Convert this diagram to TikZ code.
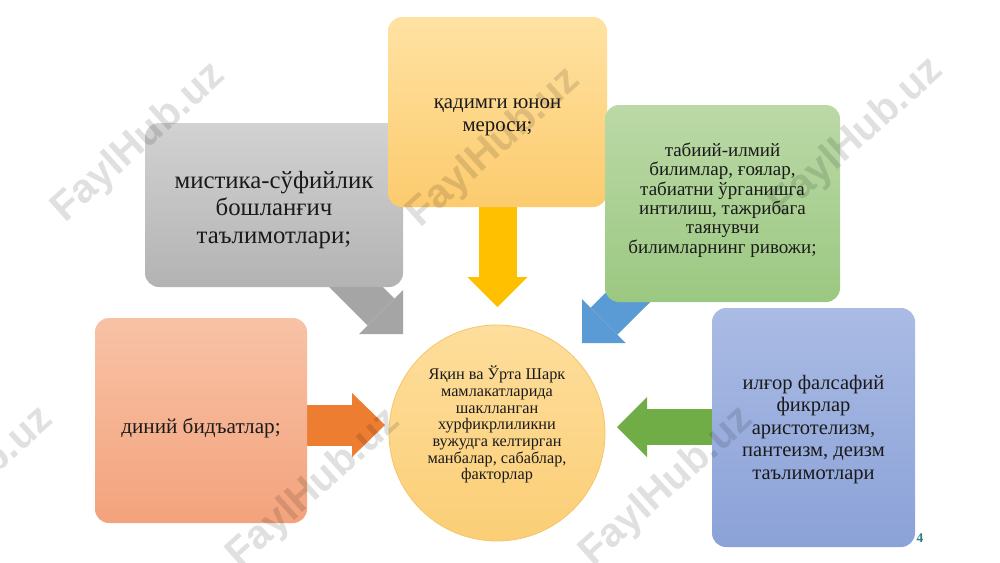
\documentclass[tikz,border=0pt]{standalone}
\usepackage{fontspec}
\setmainfont{Liberation Serif}
\newfontfamily\wmfont{Liberation Sans}
\usetikzlibrary{arrows.meta,backgrounds}
\definecolor{txt}{HTML}{1A1A1A}
\definecolor{grayT}{HTML}{D2D2D2}
\definecolor{grayB}{HTML}{B3B3B3}
\definecolor{grayA}{HTML}{A5A5A5}
\definecolor{yelT}{HTML}{FFE2A2}
\definecolor{yelB}{HTML}{FCCB6E}
\definecolor{yelA}{HTML}{FFC000}
\definecolor{grnT}{HTML}{BBD9A7}
\definecolor{grnB}{HTML}{9BC881}
\definecolor{bluA}{HTML}{5B9BD5}
\definecolor{bluT}{HTML}{AABBE4}
\definecolor{bluB}{HTML}{8BA2D8}
\definecolor{grnA}{HTML}{70AD47}
\definecolor{orT}{HTML}{F8C2A6}
\definecolor{orB}{HTML}{F3A37C}
\definecolor{orA}{HTML}{ED7D31}
\definecolor{hubT}{HTML}{FEDE9C}
\definecolor{hubB}{HTML}{FBCE76}
\definecolor{hubE}{HTML}{F6C46A}
\definecolor{pnum}{HTML}{2F7A8A}
\begin{document}
\begin{tikzpicture}[x=0.75pt,y=-0.75pt,
  box/.style={rounded corners=10.5pt, inner sep=0pt},
  boxtext/.style={align=center, text=txt, inner sep=0pt},
  flow/.style={line cap=butt},
  wm/.style={font=\wmfont\bfseries\fontsize{30.5}{30.5}\selectfont, text=black, text opacity=0.12, inner sep=0pt}]
\useasboundingbox (0,0) rectangle (1000,562);

% boxes
\node[box, minimum width=193.5pt, minimum height=123pt, top color=grayT, bottom color=grayB] (mystic) at (274,205) {};
\node[boxtext, font=\fontsize{18.6}{20.3}\selectfont] (mysticT) at (274,210) {мистика-сўфийлик\\бошланғич\\таълимотлари;};

\node[box, minimum width=164.25pt, minimum height=142.5pt, top color=yelT, bottom color=yelB] (greek) at (497.5,112) {};
\node[boxtext, font=\fontsize{15.6}{17.3}\selectfont] (greekT) at (497.5,117.5) {қадимги юнон\\мероси;};

\node[box, minimum width=176.25pt, minimum height=147.75pt, top color=grnT, bottom color=grnB] (nature) at (722.5,203.5) {};
\node[boxtext, font=\fontsize{14.25}{14.6}\selectfont] (natureT) at (722.5,200) {табиий-илмий\\билимлар, ғоялар,\\табиатни ўрганишга\\интилиш, тажрибага\\таянувчи\\билимларнинг ривожи;};

\node[box, minimum width=152.25pt, minimum height=179.25pt, top color=bluT, bottom color=bluB] (philo) at (813.5,427.5) {};
\node[boxtext, font=\fontsize{15.4}{16.9}\selectfont] (philoT) at (813.5,429.5) {илғор фалсафий\\фикрлар\\аристотелизм,\\пантеизм, деизм\\таълимотлари};

\node[box, minimum width=159pt, minimum height=153.75pt, top color=orT, bottom color=orB] (relig) at (201,420.5) {};
\node[boxtext, font=\fontsize{15.9}{17}\selectfont] (religT) at (201,428) {диний бидъатлар;};

\node[circle, minimum size=162pt, inner sep=0pt, draw=hubE, line width=0.6pt, top color=hubT, bottom color=hubB] (hub) at (497,433) {};
\node[boxtext, font=\fontsize{12.2}{12.5}\selectfont] (hubT) at (497,424.5)
  {Яқин ва Ўрта Шарк\\мамлакатларида\\шаклланган\\хурфикрлиликни\\вужудга келтирган\\манбалар, сабаблар,\\факторлар};

% arrow tips
\coordinate (tipGray) at (403,334);
\coordinate (tipYel) at (497.5,307);
\coordinate (tipBlue) at (582,343);
\coordinate (tipGrn) at (617,427);
\coordinate (tipOr) at (385,425);

\begin{scope}[on background layer]
\fill[white] (0,0) rectangle (1000,562);
\draw[flow, draw=grayA, line width=28.5pt, -{Triangle[width=46.5pt,length=23.25pt,line width=0pt]}] (mystic.center) -- (tipGray);
\draw[flow, draw=yelA, line width=28.5pt, -{Triangle[width=45pt,length=22.5pt,line width=0pt]}] (greek.center) -- (tipYel);
\draw[flow, draw=bluA, line width=28.5pt, -{Triangle[width=46.5pt,length=23.25pt,line width=0pt]}] (nature.center) -- (tipBlue);
\draw[flow, draw=grnA, line width=26.5pt, -{Triangle[width=45pt,length=22.5pt,line width=0pt]}] (philo.center |- tipGrn) -- (tipGrn);
\draw[flow, draw=orA, line width=30.75pt, -{Triangle[width=48pt,length=24.75pt,line width=0pt]}] (relig.center |- tipOr) -- (tipOr);
\end{scope}

\node[text=pnum, inner sep=0pt, font=\bfseries\fontsize{10}{11}\selectfont] (page) at (920,538) {4};

% watermarks
\node[wm, rotate=42] (wm1) at (139,143) {FaylHub.uz};
\node[wm, rotate=42] (wm2) at (494,148) {FaylHub.uz};
\node[wm, rotate=42] (wm3) at (857,138) {FaylHub.uz};
\node[wm, rotate=42] (wm4) at (-33,487) {FaylHub.uz};
\node[wm, rotate=42] (wm5) at (314,489) {FaylHub.uz};
\node[wm, rotate=42] (wm6) at (667,487) {FaylHub.uz};
\end{tikzpicture}
\end{document}
